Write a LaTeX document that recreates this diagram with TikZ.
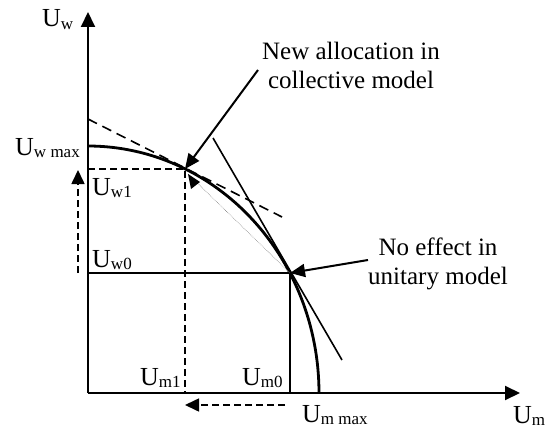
\documentclass[tikz,border=0pt]{standalone}
\usepackage{fontspec}
\setmainfont{Liberation Serif}
\usetikzlibrary{arrows.meta}
\newcommand{\ulab}[1]{U\raisebox{-2.5pt}{\fontsize{17}{17}\selectfont #1}}
\tikzset{
  axis/.style={line width=2pt,-{Triangle[length=15pt,width=14pt]}},
  tip/.style={-{Triangle[length=15pt,width=13pt]}},
  curve/.style={line width=2.8pt},
  thin/.style={line width=1.6pt},
  dsh/.style={line width=1.6pt,dash pattern=on 7pt off 4pt},
  lbl/.style={inner sep=0pt,anchor=base west,font=\fontsize{26}{30}\selectfont},
  txt/.style={inner sep=0pt,anchor=base,font=\fontsize{25}{29}\selectfont}
}
\begin{document}
\begin{tikzpicture}[x=1pt,y=-1pt]
\useasboundingbox (0,0) rectangle (559,433);
% key points
\coordinate (O) at (88,393);
\coordinate (Ytop) at (88,12);
\coordinate (Xend) at (520,393);
\coordinate (Wmax) at (88,146);
\coordinate (P0) at (290,273);
\coordinate (P1) at (185,169);
\coordinate (W0) at (88,273);
\coordinate (M0) at (290,393);
\coordinate (W1) at (88,169);
\coordinate (M1) at (185,393);
\coordinate (Dt1) at (88,119);
\coordinate (Dt2) at (282,217);
\coordinate (St1) at (213,138);
\coordinate (St2) at (342,360);
\coordinate (Ua) at (78,273);
\coordinate (Ub) at (78,170);
\coordinate (La) at (285,405);
\coordinate (Lb) at (185,405);
\coordinate (Dq) at (188,174);
% axes
\draw[axis] (O) -- (Ytop);
\draw[axis] (O) -- (Xend);
% frontier
\draw[curve] plot[domain=90:0,samples=80,smooth] ({88+231*cos(\x)},{393-247*sin(\x)});
% tangents
\draw[line width=1.6pt,dash pattern=on 10pt off 6pt] (Dt1) -- (Dt2);
\draw[thin] (St1) -- (St2);
% initial allocation lines
\draw[thin] (W0) -- (P0) -- (M0);
% new allocation dashed lines
\draw[dsh] (W1) -- (P1) -- (M1);
% dotted arrow
\draw[line width=0.6pt,gray,densely dotted] (P0) -- (Dq);
\fill (Dq) -- ++(3,15) -- ++(9,-7) -- cycle;
% dashed movement arrows
\draw[dsh,-{Triangle[length=14pt,width=13pt]}] (Ua) -- (Ub);
\draw[dsh,-{Triangle[length=14pt,width=13pt]}] (La) -- (Lb);
% labels
\node[lbl] (lUw) at (42,27) {\ulab{w}};
\node[lbl] (lUwmax) at (15,155) {\ulab{w max}};
\node[lbl] (lUw1) at (92,195) {\ulab{w1}};
\node[lbl] (lUw0) at (92,267) {\ulab{w0}};
\node[lbl] (lUm1) at (140,385) {\ulab{m1}};
\node[lbl] (lUm0) at (242,385) {\ulab{m0}};
\node[lbl] (lUmmax) at (302,422) {\ulab{m max}};
\node[lbl] (lUm) at (513,423) {\ulab{m}};
% annotations
\node[txt] (na1) at (351,60) {New allocation in};
\node[txt] (na2) at (351,89) {collective model};
\node[txt] (ne1) at (438,255) {No effect in};
\node[txt] (ne2) at (438,284) {unitary model};
\coordinate (NAstart) at (258,70);
\coordinate (NEstart) at (368,260);
\draw[line width=2pt,tip] (NAstart) -- (P1);
\draw[line width=2pt,tip] (NEstart) -- (P0);
\end{tikzpicture}
\end{document}
